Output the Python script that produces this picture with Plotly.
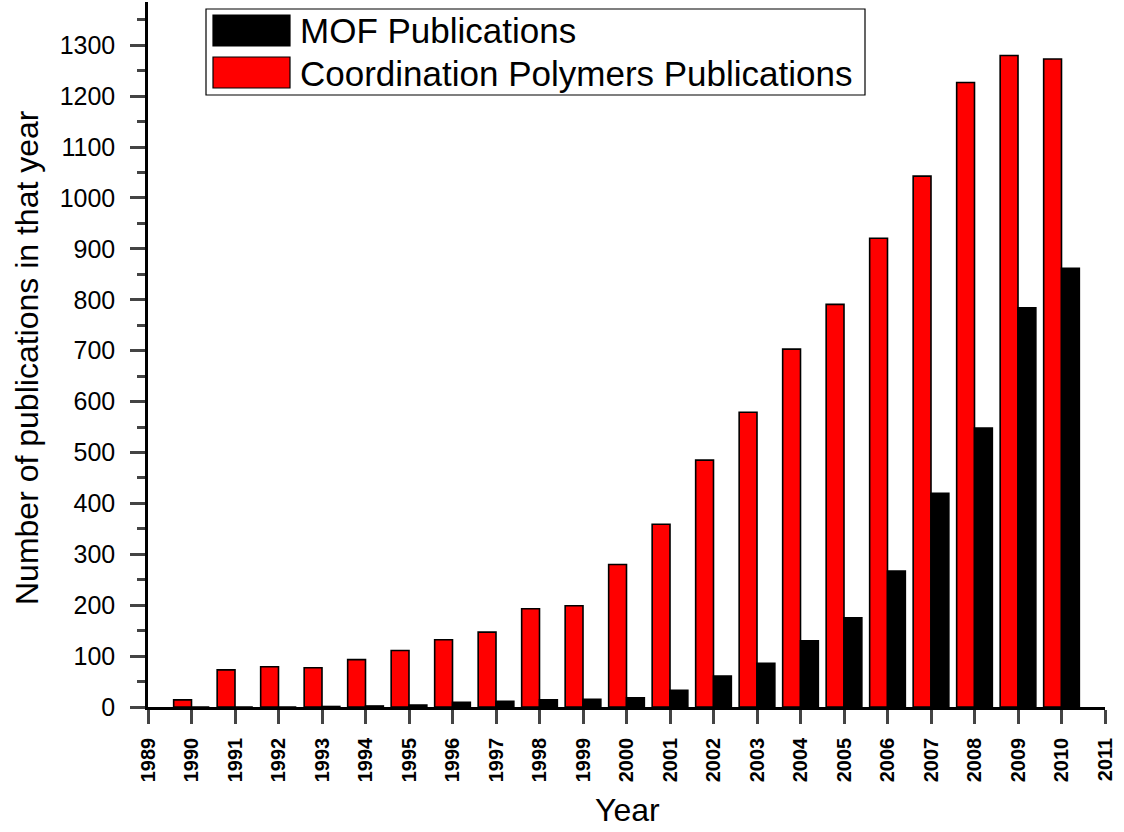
import plotly.graph_objs as go

years = list(range(1990, 2011))
mof_pubs = [0, 0, 0, 1, 2, 4, 9, 11, 14, 15, 18, 33, 61, 86, 130, 175, 267, 420, 548, 784, 862]
cp_pubs = [14, 73, 79, 77, 93, 111, 132, 147, 193, 199, 280, 359, 485, 579, 703, 791, 921, 1043, 1227, 1280, 1273]

bar_w = 0.41
font = "Arial, Liberation Sans, sans-serif"

W, H = 1124, 832
L, R, T, B = 148, 1105, 2, 707  # plot area in pixels

def px(x):
    return (x - L) / (R - L)

def py(y):
    return (B - y) / (B - T)

fig = go.Figure()
# red bars sit left of the year tick, black bars right of it
fig.add_trace(go.Bar(x=years, y=cp_pubs, width=bar_w, offset=-bar_w,
                     marker=dict(color="#ff0000", line=dict(color="black", width=1.6)),
                     name="Coordination Polymers Publications", showlegend=False))
fig.add_trace(go.Bar(x=years, y=mof_pubs, width=bar_w, offset=0,
                     marker=dict(color="black", line=dict(color="black", width=1.6)),
                     name="MOF Publications", showlegend=False))

# hand-drawn legend (Origin style, large swatches)
legend_items = [("MOF Publications", "black"), ("Coordination Polymers Publications", "#ff0000")]
shapes = [dict(type="rect", xref="paper", yref="paper", x0=px(206), x1=px(865), y0=py(95), y1=py(9),
               line=dict(color="black", width=1.2), fillcolor="white", layer="above")]
annotations = []
for i, (label, col) in enumerate(legend_items):
    top = 15 + i * 42
    shapes.append(dict(type="rect", xref="paper", yref="paper", x0=px(213), x1=px(290),
                       y0=py(top + 31), y1=py(top), fillcolor=col,
                       line=dict(color="black", width=1.2), layer="above"))
    annotations.append(dict(xref="paper", yref="paper", x=px(298), y=py(top + 16), text=label,
                            showarrow=False, xanchor="left", yanchor="middle",
                            font=dict(family=font, size=35, color="black")))

# axis titles
annotations.append(dict(xref="paper", yref="paper", x=px(627), y=py(810), text="Year",
                        showarrow=False, xanchor="center", yanchor="middle",
                        font=dict(family=font, size=32, color="black")))
annotations.append(dict(xref="paper", yref="paper", x=px(27), y=py(358),
                        text="Number of publications in that year", textangle=-90,
                        showarrow=False, xanchor="center", yanchor="middle",
                        font=dict(family=font, size=32, color="black")))

fig.update_layout(
    width=W, height=H,
    barmode="overlay",
    plot_bgcolor="white", paper_bgcolor="white",
    margin=dict(l=L, r=W - R, t=T, b=H - B),
    font=dict(family=font, color="black"),
    shapes=shapes, annotations=annotations,
    xaxis=dict(range=[1989, 2011], tickmode="linear", tick0=1989, dtick=1,
               tickangle=-90, ticks="outside", ticklen=14, tickwidth=2.5,
               tickfont=dict(family=font, size=20, weight="bold"), ticklabelstandoff=6,
               showline=True, linecolor="black", linewidth=2.5, showgrid=False, zeroline=False,
               automargin=False),
    yaxis=dict(range=[0, 1385], tickmode="linear", tick0=0, dtick=100,
               ticks="outside", ticklen=15, tickwidth=2.5,
               minor=dict(dtick=50, ticks="outside", ticklen=8, tickwidth=2.5, showgrid=False),
               tickfont=dict(family=font, size=25), ticklabelstandoff=10,
               showline=True, linecolor="black", linewidth=2.5, showgrid=False, zeroline=False,
               automargin=False),
)

# drop the default page margin so the figure fills the window from the corner
fig.write_html("out.html", config={"displayModeBar": False},
               post_script="document.body.style.margin='0';")
